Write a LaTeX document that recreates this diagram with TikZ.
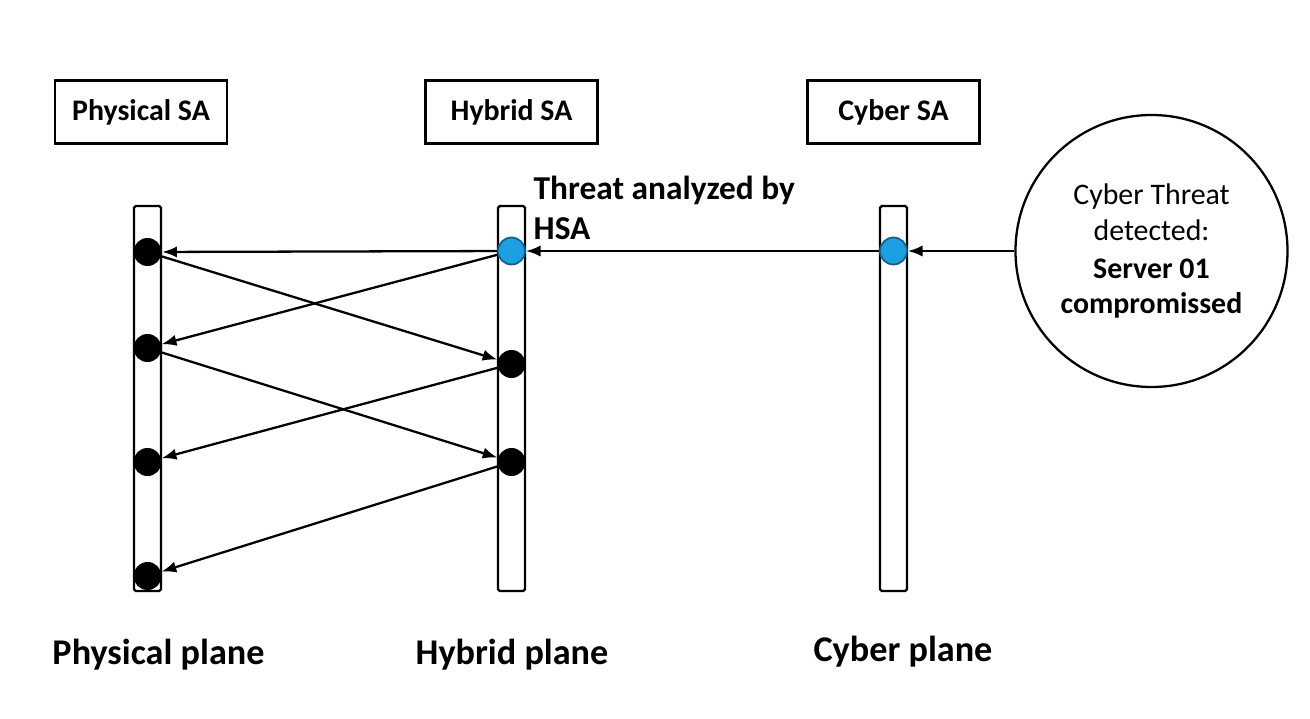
\documentclass[tikz,border=0pt]{standalone}
\usepackage{xcolor}
\usepackage{fontspec}
\setmainfont{Carlito}
\usepackage{tikz}
\usetikzlibrary{arrows.meta, shapes.geometric}

\definecolor{threatblue}{RGB}{27,161,226}
\definecolor{threatedge}{RGB}{25,95,140}

\begin{document}
\begin{tikzpicture}[
    sabox/.style={draw, line width=0.75pt, minimum width=1.72cm, minimum height=0.63cm, font=\fontsize{8.5}{10}\selectfont\bfseries},
    lifeline/.style={draw, line width=0.7pt, rounded corners=0.5pt, minimum width=0.27cm, minimum height=3.85cm},
    dot/.style={circle, fill=black, minimum size=0.28cm, inner sep=0pt},
    hotdot/.style={circle, fill=threatblue, draw=threatedge, line width=0.5pt, minimum size=0.27cm, inner sep=0pt},
    msg/.style={-{Latex[length=4.2pt,width=3.2pt]}, line width=0.65pt},
    plane/.style={font=\fontsize{10.3}{12}\selectfont\bfseries}
]
\useasboundingbox (0,0) rectangle (13.1,7.18);

% SA boxes
\node[sabox] (psa) at (1.41,6.06) {Physical SA};
\node[sabox] (hsa) at (5.115,6.06) {Hybrid SA};
\node[sabox] (csa) at (8.935,6.06) {Cyber SA};

% lifelines
\node[lifeline] (pline) at (1.475,3.195) {};
\node[lifeline] (hline) at (5.115,3.195) {};
\node[lifeline] (cline) at (8.935,3.195) {};

% events
\foreach \n/\y in {1/4.66, 2/3.70, 3/2.56, 4/1.42}
    \node[dot] (p\n) at (1.475,\y) {};
\node[hotdot] (h1) at (5.115,4.67) {};
\node[dot] (h2) at (5.115,3.54) {};
\node[dot] (h3) at (5.115,2.56) {};
\node[hotdot] (c1) at (8.935,4.67) {};

\node[circle, draw, line width=0.65pt, minimum size=2.72cm, align=center,
      font=\fontsize{8.5}{10}\selectfont] (threat) at (11.515,4.67)
    {Cyber Threat\\detected:\\[0.8pt]\textbf{Server 01}\\\textbf{compromissed}};

\node[anchor=west, inner sep=0pt, align=left, font=\fontsize{9.5}{11.4}\selectfont\bfseries]
    (hsalabel) at (5.33,5.10) {Threat analyzed by\\HSA};

% messages
\foreach \a/\b in {threat/c1, c1/h1, h1/p1, h1/p2, p1/h2, h2/p3, p2/h3, h3/p4}
    \draw[msg] (\a) -- (\b);

% planes
\node[plane] (pplane) at (1.585,0.63) {Physical plane};
\node[plane] (hplane) at (5.12,0.63) {Hybrid plane};
\node[plane] (cplane) at (9.03,0.66) {Cyber plane};

\end{tikzpicture}
\end{document}
